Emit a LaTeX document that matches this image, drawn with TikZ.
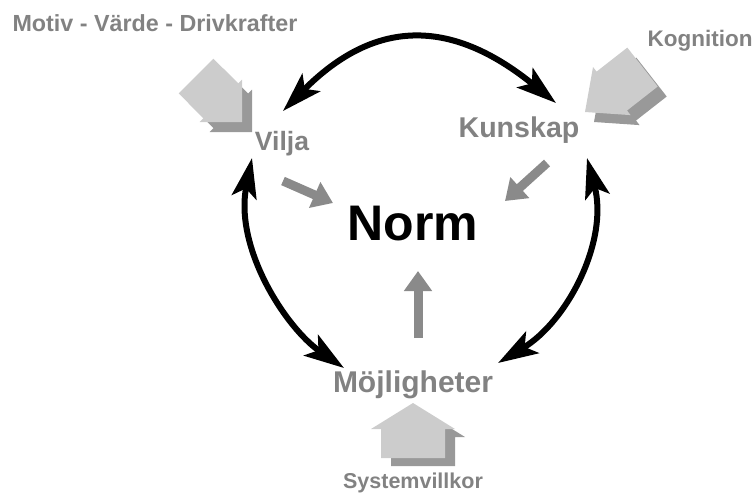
\documentclass[tikz,border=0pt]{standalone}
\usepackage{fontspec}
\setmainfont{Liberation Sans}
\usetikzlibrary{arrows.meta}
\definecolor{txtgray}{RGB}{130,130,130}
\definecolor{arrgray}{RGB}{138,138,138}
\definecolor{blocklight}{RGB}{204,204,204}
\definecolor{blockdark}{RGB}{153,153,153}
\newcommand\myblock[4]{(0,0) -- (-#1,#2) -- (-#1,#3) -- (-#1-#4,#3) -- (-#1-#4,-#3) -- (-#1,-#3) -- (-#1,-#2) -- cycle}
\tikzset{
  lbl/.style={text=txtgray, font=\bfseries\fontsize{#1}{#1}\selectfont, anchor=base, inner sep=0pt},
  cyc/.style={line width=6pt, {Stealth[length=40pt,width=25pt,inset=9pt]}-{Stealth[length=40pt,width=25pt,inset=9pt]}},
  infl/.style={draw=arrgray, line width=9pt, -{Triangle[length=20pt,width=27pt]}},
}
\begin{document}
\begin{tikzpicture}[x=1pt,y=-1pt]
\useasboundingbox (0,0) rectangle (755,493);
% block arrows with shadows
\begin{scope}[shift={(252,132)},rotate=-45]
  \fill[blockdark] \myblock{30}{30}{24.5}{35};
\end{scope}
\begin{scope}[shift={(242,122)},rotate=-45]
  \fill[blocklight] \myblock{30}{30}{24.5}{35};
\end{scope}
\begin{scope}[shift={(594,122)},rotate=-142]
  \fill[blockdark] \myblock{34}{30.5}{24.7}{39};
\end{scope}
\begin{scope}[shift={(585,112)},rotate=-142]
  \fill[blocklight] \myblock{34}{30.5}{24.7}{39};
\end{scope}
\begin{scope}[shift={(423,411)},rotate=90]
  \fill[blockdark] \myblock{26}{42}{32}{29};
\end{scope}
\begin{scope}[shift={(413,403)},rotate=90]
  \fill[blocklight] \myblock{26}{42}{32}{29};
\end{scope}
% labels
\node[lbl=23.3] (motiv) at (155,31.7) {Motiv - Värde - Drivkrafter};
\node[lbl=22.5] (kogn) at (700,46.7) {Kognition};
\node[lbl=26.5] (vilja) at (282,150) {Vilja};
\node[lbl=28.6] (kunskap) at (519,137) {Kunskap};
\node[lbl=30] (mojl) at (413,392) {Möjligheter};
\node[lbl=21.5] (sys) at (413,488) {Systemvillkor};
\node[lbl=50, text=black] (norm) at (413,240) {Norm};
% cycle arcs
\coordinate (t1) at (283,111);
\coordinate (t2) at (556,103);
\coordinate (l1) at (252,158);
\coordinate (l2) at (344,368);
\coordinate (r1) at (587,158);
\coordinate (r2) at (498,363);
\draw[cyc] (t1) .. controls (378,15) and (455,21) .. (t2);
\draw[cyc] (l1) .. controls (234,248) and (286,328) .. (l2);
\draw[cyc] (r1) .. controls (609,240) and (568,321) .. (r2);
% influence arrows
\coordinate (va) at (283,181);
\coordinate (vb) at (333,203);
\coordinate (ka) at (547,163);
\coordinate (kb) at (505,201);
\coordinate (ma) at (418,338);
\coordinate (mb) at (418,271);
\draw[infl] (va) -- (vb);
\draw[infl] (ka) -- (kb);
\draw[infl] (ma) -- (mb);
\end{tikzpicture}
\end{document}
